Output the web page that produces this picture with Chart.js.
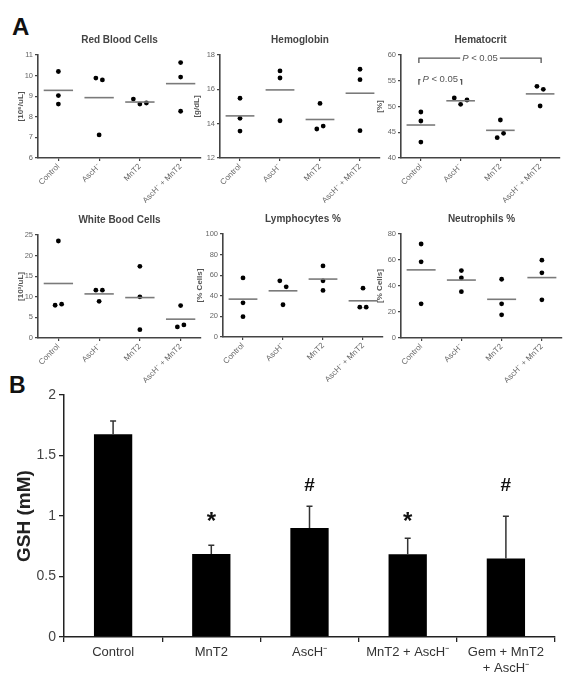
<!DOCTYPE html>
<html>
<head>
<meta charset="utf-8">
<script src="https://cdn.jsdelivr.net/npm/chart.js@4.4.1/dist/chart.umd.min.js"></script>
<style>
  html, body { margin: 0; padding: 0; background: #fff; }
  body { width: 569px; height: 685px; position: relative; overflow: hidden; font-family: "Liberation Sans", Arial, sans-serif; }
  .letter { position: absolute; font-weight: bold; color: #111; line-height: 1; }
  .box { position: absolute; }
  .box canvas { display: block; }
</style>
</head>
<body>
<div class="letter" style="left:12px; top:15px; font-size:24px;">A</div>
<div class="letter" style="left:9px; top:374px; font-size:23px;">B</div>

<div class="box"><canvas id="rbc"></canvas></div>
<div class="box"><canvas id="hgb"></canvas></div>
<div class="box"><canvas id="hct"></canvas></div>
<div class="box"><canvas id="wbc"></canvas></div>
<div class="box"><canvas id="lym"></canvas></div>
<div class="box"><canvas id="neu"></canvas></div>
<div class="box"><canvas id="gsh"></canvas></div>

<script>
// ---- Panel A: blood counts, three animals per group ----
const groups = ["Control", "AscH⁻", "MnT2", "AscH⁻ + MnT2"];

const rbcValues = [[10.2, 9.03, 8.62], [9.88, 9.79, 7.12], [8.86, 8.62, 8.67], [10.63, 9.93, 8.27]];
const rbcTicks = [6, 7, 8, 9, 10, 11];

const hgbValues = [[15.48, 14.31, 13.57], [17.07, 16.66, 14.17], [15.18, 13.69, 13.86], [17.17, 16.56, 13.59]];
const hgbTicks = [12, 14, 16, 18];

const hctValues = [[48.93, 47.18, 43.1], [51.65, 50.42, 51.26], [47.38, 43.95, 44.79], [53.92, 53.33, 50.1]];
const hctTicks = [40, 45, 50, 55, 60];
const hctBrackets = [
  { from: 0, to: 1, y: 55.2, label: "P < 0.05" },
  { from: 0, to: 3, y: 59.4, label: "P < 0.05" },
];

const wbcValues = [[23.54, 7.95, 8.2], [11.6, 11.6, 8.9], [17.4, 10.0, 2.03], [7.87, 2.68, 3.17]];
const wbcTicks = [0, 5, 10, 15, 20, 25];

const lymValues = [[57.4, 33.2, 19.7], [54.5, 48.7, 31.3], [69, 54.5, 45.2], [47.4, 29, 29]];
const lymTicks = [0, 20, 40, 60, 80, 100];

const neuValues = [[72.3, 58.6, 26.3], [51.9, 46.2, 35.6], [45.2, 26.3, 17.8], [59.9, 50.1, 29.4]];
const neuTicks = [0, 20, 40, 60, 80];

// ---- Panel B: GSH ----
const gshGroups = ["Control", "MnT2", "AscH⁻", "MnT2 + AscH⁻", ["Gem + MnT2", "+ AscH⁻"]];
const gshMean = [1.675, 0.685, 0.9, 0.683, 0.648];
const gshErr = [0.11, 0.074, 0.18, 0.133, 0.35];
const gshMarks = ["", "*", "#", "*", "#"];
const gshMarkLevel = [null, 1.0, 1.26, 1.0, 1.26];
const gshTicks = [0, 0.5, 1, 1.5, 2];

const FONT = '"Liberation Sans", Arial, sans-serif';
Chart.defaults.font.family = FONT;

/**
 * Spread points sideways when they would overlap (GraphPad style)
 */
function spreadX(values, index, span) {
  const order = values.map((_, i) => i).sort((a, b) => values[a] - values[b]);
  const clusters = [];
  let cur = [order[0]];
  for (let k = 1; k < order.length; k++) {
    if (values[order[k]] - values[order[k - 1]] < span * 0.063) cur.push(order[k]);
    else { clusters.push(cur); cur = [order[k]]; }
  }
  clusters.push(cur);
  const xs = values.map(() => index);
  clusters.forEach((c) => {
    c.sort((a, b) => a - b);
    c.forEach((i, k) => { xs[i] = index + (k - (c.length - 1) / 2) * 0.16; });
  });
  return values.map((v, i) => ({ x: xs[i], y: v }));
}

// small title above each plot
const panelTitle = {
  id: "panelTitle",
  afterDraw(chart, args, opts) {
    const { ctx, chartArea } = chart;
    ctx.save();
    ctx.font = `bold 10px ${FONT}`;
    ctx.fillStyle = "#444";
    ctx.textAlign = "center";
    ctx.textBaseline = "middle";
    ctx.fillText(opts.text, (chartArea.left + chartArea.right) / 2, chartArea.top - 15);
    ctx.restore();
  },
};

// significance brackets (hematocrit)
const bracketPlugin = {
  id: "brackets",
  afterDatasetsDraw(chart, args, opts) {
    const items = opts.items || [];
    if (!items.length) return;
    const { ctx, scales: { x, y } } = chart;
    ctx.save();
    ctx.strokeStyle = "#555";
    ctx.fillStyle = "#555";
    ctx.lineWidth = 1.3;
    ctx.textBaseline = "middle";
    items.forEach((b) => {
      const x1 = x.getPixelForValue(b.from) - 2;
      const x2 = x.getPixelForValue(b.to) + 1;
      const yy = y.getPixelForValue(b.y);
      const rest = b.label.slice(1);
      ctx.font = `italic 9.5px ${FONT}`;
      const wP = ctx.measureText(b.label[0]).width;
      ctx.font = `9.5px ${FONT}`;
      const wR = ctx.measureText(rest).width;
      const w = wP + wR;
      const tx = (x1 + x2) / 2 - w / 2;
      ctx.beginPath();
      ctx.moveTo(x1, yy + 5);
      ctx.lineTo(x1, yy);
      ctx.lineTo(Math.max(x1, tx - 2), yy);
      ctx.moveTo(Math.min(x2, tx + w + 2), yy);
      ctx.lineTo(x2, yy);
      ctx.lineTo(x2, yy + 5);
      ctx.stroke();
      ctx.textAlign = "left";
      ctx.font = `italic 9.5px ${FONT}`;
      ctx.fillText(b.label[0], tx, yy);
      ctx.font = `9.5px ${FONT}`;
      ctx.fillText(rest, tx + wP, yy);
    });
    ctx.restore();
  },
};

function makeDotChart(id, cfg) {
  const [left, top, width, height] = cfg.plot;
  const canvas = document.getElementById(id);
  const box = canvas.parentNode;
  box.style.left = left - 38 + "px";
  box.style.top = top - 30 + "px";
  box.style.width = width + 50 + "px";
  box.style.height = height + 75 + "px";

  const lo = cfg.ticks[0];
  const hi = cfg.ticks[cfg.ticks.length - 1];
  const points = [];
  cfg.values.forEach((vals, i) => points.push(...spreadX(vals, i, hi - lo)));

  // horizontal mean line per group
  const meanSets = cfg.values.map((vals, i) => {
    const m = vals.reduce((a, b) => a + b, 0) / vals.length;
    return {
      showLine: true,
      data: [{ x: i - 0.36, y: m }, { x: i + 0.36, y: m }],
      borderColor: "#7a7a7a",
      borderWidth: 1.6,
      pointRadius: 0,
    };
  });

  return new Chart(canvas, {
    type: "scatter",
    data: {
      datasets: [
        ...meanSets,
        { data: points, backgroundColor: "#000", borderColor: "#000", pointRadius: 2.4, borderWidth: 0 },
      ],
    },
    options: {
      responsive: true,
      maintainAspectRatio: false,
      animation: false,
      layout: { padding: { top: 30, right: 12, left: 0, bottom: 0 } },
      plugins: {
        legend: { display: false },
        tooltip: { enabled: false },
        panelTitle: { text: cfg.title },
        brackets: { items: cfg.brackets || [] },
      },
      scales: {
        x: {
          type: "linear",
          min: -0.5,
          max: 3.5,
          afterBuildTicks: (s) => { s.ticks = groups.map((_, i) => ({ value: i })); },
          afterFit: (s) => { s.height = 45; },
          grid: { drawOnChartArea: false, tickLength: 3, color: "#444", lineWidth: 1.2 },
          border: { color: "#444", width: 1.6 },
          ticks: {
            callback: (v) => groups[v],
            minRotation: 45,
            maxRotation: 45,
            autoSkip: false,
            font: { size: 8 },
            color: "#666",
            padding: 1,
          },
        },
        y: {
          min: lo,
          max: hi,
          afterBuildTicks: (s) => { s.ticks = cfg.ticks.map((v) => ({ value: v })); },
          afterFit: (s) => { s.width = 38; },
          grid: { drawOnChartArea: false, tickLength: 3, color: "#444", lineWidth: 1.2 },
          border: { color: "#444", width: 1.6 },
          ticks: { font: { size: 7.5 }, color: "#666", padding: 2 },
          title: {
            display: true,
            text: cfg.unit,
            font: { size: 8, weight: "bold" },
            color: "#555",
            padding: { top: cfg.titlePad, bottom: 0 },
          },
        },
      },
    },
    plugins: [panelTitle, bracketPlugin],
  });
}

makeDotChart("rbc", { values: rbcValues, ticks: rbcTicks, title: "Red Blood Cells", unit: "[10⁶/uL]", plot: [38, 55, 163, 103], titlePad: 16 });
makeDotChart("hgb", { values: hgbValues, ticks: hgbTicks, title: "Hemoglobin", unit: "[g/dL]", plot: [220, 55, 160, 103], titlePad: 10 });
makeDotChart("hct", { values: hctValues, ticks: hctTicks, title: "Hematocrit", unit: "[%]", plot: [401, 55, 159, 103], titlePad: 12, brackets: hctBrackets });
makeDotChart("wbc", { values: wbcValues, ticks: wbcTicks, title: "White Bood Cells", unit: "[10³/uL]", plot: [38, 235, 163, 103], titlePad: 16 });
makeDotChart("lym", { values: lymValues, ticks: lymTicks, title: "Lymphocytes %", unit: "[% Cells]", plot: [223, 234, 160, 103], titlePad: 10 });
makeDotChart("neu", { values: neuValues, ticks: neuTicks, title: "Neutrophils %", unit: "[% Cells]", plot: [401, 234, 161, 104], titlePad: 12 });

// ---- Panel B bar chart ----
const errorBars = {
  id: "errorBars",
  afterDatasetsDraw(chart) {
    const { ctx, scales: { y } } = chart;
    const meta = chart.getDatasetMeta(0);
    ctx.save();
    ctx.strokeStyle = "#333";
    ctx.lineWidth = 1.5;
    meta.data.forEach((bar, i) => {
      const top = y.getPixelForValue(gshMean[i] + gshErr[i]);
      ctx.beginPath();
      ctx.moveTo(bar.x, bar.y);
      ctx.lineTo(bar.x, top);
      ctx.moveTo(bar.x - 3, top);
      ctx.lineTo(bar.x + 3, top);
      ctx.stroke();

      const mark = gshMarks[i];
      if (!mark) return;
      const size = mark === "*" ? 24 : 19;
      ctx.font = `bold ${size}px ${FONT}`;
      ctx.fillStyle = "#111";
      ctx.textAlign = "center";
      ctx.textBaseline = "alphabetic";
      const m = ctx.measureText(mark);
      const yc = y.getPixelForValue(gshMarkLevel[i]);
      ctx.fillText(mark, bar.x, yc + (m.actualBoundingBoxAscent - m.actualBoundingBoxDescent) / 2);
    });
    ctx.restore();
  },
};

const gshBox = document.getElementById("gsh").parentNode;
gshBox.style.left = "0px";
gshBox.style.top = "370px";
gshBox.style.width = "569px";
gshBox.style.height = "315px";

new Chart(document.getElementById("gsh"), {
  type: "bar",
  data: {
    labels: gshGroups,
    datasets: [
      {
        data: gshMean,
        backgroundColor: "#000",
        borderColor: "#000",
        borderWidth: 0,
        barPercentage: 0.39,
        categoryPercentage: 1,
      },
    ],
  },
  options: {
    responsive: true,
    maintainAspectRatio: false,
    animation: false,
    layout: { padding: { top: 25, right: 14, left: 0, bottom: 0 } },
    plugins: { legend: { display: false }, tooltip: { enabled: false } },
    scales: {
      x: {
        afterFit: (s) => { s.height = 48; },
        grid: { drawOnChartArea: false, offset: true, tickLength: 5, color: "#222", lineWidth: 1.3 },
        border: { color: "#222", width: 1.5 },
        ticks: { font: { size: 13 }, color: "#333", padding: 3, maxRotation: 0, autoSkip: false },
      },
      y: {
        min: gshTicks[0],
        max: gshTicks[gshTicks.length - 1],
        afterBuildTicks: (s) => { s.ticks = gshTicks.map((v) => ({ value: v })); },
        afterFit: (s) => { s.width = 64; },
        grid: { drawOnChartArea: false, tickLength: 5, color: "#222", lineWidth: 1.3 },
        border: { color: "#222", width: 1.5 },
        ticks: { font: { size: 14 }, color: "#444", padding: 3, callback: (v) => String(v) },
        title: {
          display: true,
          text: "GSH (mM)",
          font: { size: 19, weight: "bold" },
          color: "#222",
          padding: { top: 13, bottom: 0 },
        },
      },
    },
  },
  plugins: [errorBars],
});
</script>
</body>
</html>
